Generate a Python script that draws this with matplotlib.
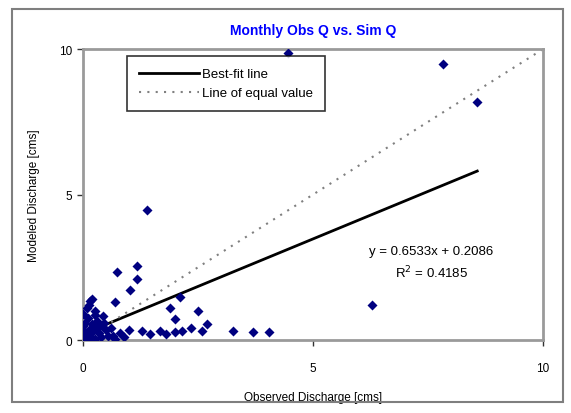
import matplotlib
matplotlib.use("Agg")
import matplotlib.pyplot as plt
import numpy as np
from matplotlib.patches import Rectangle

plt.rcParams['font.family'] = ['Liberation Sans', 'DejaVu Sans']

# Observed vs simulated monthly discharge (cms)
obs = [4.46, 7.83, 8.57, 1.39, 6.28,
       0.74, 1.17, 1.17, 1.02, 0.20, 0.70, 2.11, 1.89, 2.50, 2.00, 2.70, 2.59,
       3.26, 3.70, 4.04, 1.28, 1.46, 1.67, 2.00, 2.15, 2.35, 1.80,
       0.15, 0.00, 0.26, 0.43, 0.00, 0.15, 0.41, 0.04, 0.54, 0.70, 0.26,
       0.05, 0.10, 0.20, 0.30, 0.35, 0.08, 0.12, 0.50, 0.60, 0.65, 0.02,
       0.18, 0.25, 0.33, 0.45, 0.06, 0.14, 0.22, 0.38, 0.80, 0.90, 1.00]
sim = [9.86, 9.48, 8.18, 4.47, 1.20,
       2.34, 2.54, 2.10, 1.72, 1.41, 1.31, 1.48, 1.10, 1.00, 0.72, 0.55, 0.31,
       0.31, 0.27, 0.27, 0.31, 0.21, 0.31, 0.27, 0.31, 0.40, 0.20,
       1.34, 0.90, 1.00, 0.82, 0.48, 0.38, 0.48, 0.14, 0.14, 0.03, 0.03,
       0.60, 0.75, 0.55, 0.65, 0.25, 1.10, 0.20, 0.35, 0.40, 0.15, 0.30,
       0.10, 0.85, 0.45, 0.60, 0.05, 1.20, 0.30, 0.10, 0.25, 0.10, 0.35]

slope = 0.6533
intercept = 0.2086
r2 = 0.4185

title = "Monthly Obs Q vs. Sim Q"
xlabel = "Observed Discharge [cms]"
ylabel = "Modeled Discharge [cms]"
ticks = [0, 5, 10]

fig = plt.figure(figsize=(5.71, 4.14), dpi=100)
fig.patches.append(Rectangle((0.021, 0.027), 0.965, 0.949, transform=fig.transFigure,
                             fill=False, edgecolor='#7f7f7f', linewidth=1.5))
ax = fig.add_axes([0.1454, 0.1763, 0.8056, 0.7027])

ax.scatter(obs, sim, marker='D', s=26, color='#000080', zorder=3, linewidths=0)

xfit = np.array([0, max(obs)])
ax.plot(xfit, slope * xfit + intercept, color='black', linewidth=2, label='Best-fit line', zorder=2)
ax.plot([0, 10], [0, 10], color='#808080', linewidth=1.5, linestyle=(0, (1, 3)),
        label='Line of equal value', zorder=2)

ax.set_xlim(0, 10)
ax.set_ylim(0, 10)
ax.set_xticks(ticks)
ax.set_yticks(ticks)
ax.tick_params(direction='out', length=4, width=1, colors='#333333', labelsize=8.5,
               labelcolor='black')
ax.tick_params(axis='x', pad=12)
for s in ax.spines.values():
    s.set_color('#9a9a9a')
    s.set_linewidth(2)

ax.set_title(title, color='#0000ff', fontsize=10, fontweight='bold', pad=11)
ax.set_xlabel(xlabel, fontsize=8.5, labelpad=12)
ax.set_ylabel(ylabel, fontsize=8.5, labelpad=14)

ax.text(0.757, 0.306, f"y = {slope:.4f}x + {intercept:.4f}", transform=ax.transAxes,
        ha='center', va='center', fontsize=9.5)
ax.text(0.757, 0.234, f"R$^2$ = {r2:.4f}", transform=ax.transAxes,
        ha='center', va='center', fontsize=9.5)

leg = ax.legend(loc='upper left', bbox_to_anchor=(0.095, 0.975), fontsize=9.5,
                frameon=True, fancybox=False, edgecolor='black', handlelength=4.6,
                handletextpad=0.2, borderpad=0.9, labelspacing=0.5, borderaxespad=0.0)
leg.get_frame().set_linewidth(1.2)

fig.savefig("out.png", dpi=100)
